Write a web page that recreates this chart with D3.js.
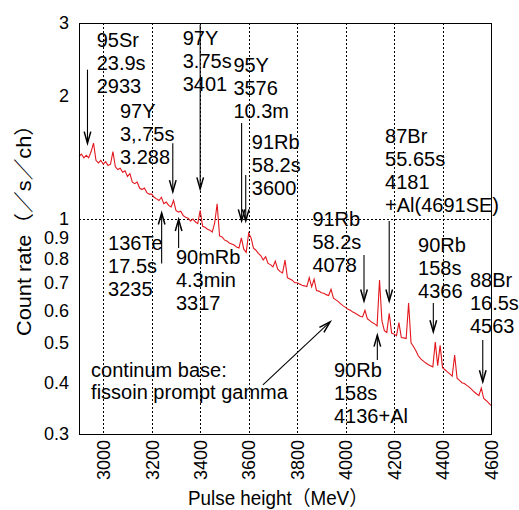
<!DOCTYPE html>
<html><head><meta charset="utf-8">
<script src="https://cdn.jsdelivr.net/npm/d3@7"></script>
<style>
body{margin:0;background:#fff}
svg text{font-family:"Liberation Sans",Arial,"Noto Sans CJK JP",sans-serif;fill:#000}
</style>
</head><body><svg id="chart" width="519" height="510"></svg>
<script>
// ---- data ----
const pulseHeight = [
2900,2910,2920,2930,2940,2950,2960,2970,2980,2990,
3000,3010,3020,3030,3040,3050,3060,3070,3080,3090,
3100,3110,3120,3130,3140,3150,3160,3170,3180,3190,
3200,3210,3220,3230,3240,3250,3260,3270,3280,3290,
3300,3310,3320,3330,3340,3350,3360,3370,3380,3390,
3400,3410,3420,3430,3440,3450,3460,3470,3480,3490,
3500,3510,3520,3530,3540,3550,3560,3570,3580,3590,
3600,3610,3620,3630,3640,3650,3660,3670,3680,3690,
3700,3710,3720,3730,3740,3750,3760,3770,3780,3790,
3800,3810,3820,3830,3840,3850,3860,3870,3880,3890,
3900,3910,3920,3930,3940,3950,3960,3970,3980,3990,
4000,4010,4020,4030,4040,4050,4060,4070,4080,4090,
4100,4110,4120,4130,4140,4150,4160,4170,4180,4190,
4200,4210,4220,4230,4240,4250,4260,4270,4280,4290,
4300,4310,4320,4330,4340,4350,4360,4370,4380,4390,
4400,4410,4420,4430,4440,4450,4460,4470,4480,4490,
4500,4510,4520,4530,4540,4550,4560,4570,4580,4590,
4600];
const countRate = [
1.42,1.44,1.41,1.43,1.41,1.46,1.53,1.39,1.37,1.39,
1.36,1.38,1.35,1.36,1.46,1.34,1.32,1.33,1.30,1.31,
1.27,1.29,1.23,1.22,1.23,1.19,1.18,1.19,1.16,1.15,
1.15,1.13,1.12,1.11,1.13,1.09,1.10,1.08,1.07,1.11,
1.05,1.04,1.045,1.02,1.01,1.005,0.99,1.00,0.985,0.975,
1.05,0.96,0.955,0.945,0.94,0.93,0.98,1.09,0.91,0.905,
0.89,0.885,0.875,0.87,0.865,0.855,0.85,0.90,0.845,0.83,
0.925,0.90,0.85,0.84,0.825,0.815,0.795,0.81,0.78,0.775,
0.765,0.79,0.755,0.745,0.74,0.795,0.72,0.715,0.71,0.70,
0.70,0.695,0.69,0.688,0.685,0.72,0.684,0.714,0.67,0.668,
0.662,0.66,0.655,0.652,0.675,0.642,0.636,0.63,0.622,0.615,
0.61,0.603,0.60,0.594,0.59,0.585,0.58,0.578,0.60,0.572,
0.566,0.56,0.556,0.55,0.711,0.565,0.535,0.53,0.59,0.528,
0.525,0.52,0.56,0.515,0.514,0.512,0.625,0.50,0.49,0.478,
0.465,0.457,0.452,0.447,0.443,0.44,0.437,0.502,0.44,0.493,
0.435,0.43,0.425,0.42,0.415,0.467,0.41,0.405,0.40,0.398,
0.394,0.39,0.385,0.38,0.376,0.372,0.388,0.366,0.362,0.357,
0.352];
const xTicks = [3000,3200,3400,3600,3800,4000,4200,4400,4600];
const yTickLabels = [0.3,0.4,0.5,0.6,0.7,0.8,0.9,1,2,3];
const yGrid = [1];
// annotation texts (line lists) with anchor (pulse height, count rate) and arrow (pulse height, from, to)
const annotationLines = [
 ["95Sr","23.9s","2933"],
 ["97Y","3.75s","3401"],
 ["95Y","3576","10.3m"],
 ["97Y","3,.75s","3.288"],
 ["91Rb","58.2s","3600"],
 ["136Te","17.5s","3235"],
 ["90mRb","4.3min","3317"],
 ["87Br","55.65s","4181","+Al(4691SE)"],
 ["91Rb","58.2s","4078"],
 ["90Rb","158s","4366"],
 ["88Br","16.5s","4563"],
 ["90Rb","158s","4136+Al"],
 ["continum base:","fissoin prompt gamma"]
];
const annotationAt = [
 [2973,2.62],[3328,2.65],[3537,2.28],[3069,1.762],[3613,1.481],
 [3020,0.841],[3300,0.778],[4163,1.53],[3863,0.962],[4299,0.832],
 [4513,0.684],[3952,0.413],[2950,0.413]
];
const arrows = [ // [pulse height, from rate, to rate]
 [2935,2.31,1.53],[3400,2.97,1.184],[3571,1.713,0.99],[3287,1.53,1.166],
 [3588,1.28,0.99],[3241,0.78,1.035],[3311,0.85,0.998],[4180,0.99,0.632],
 [4076,0.818,0.632],[4362,0.625,0.532],[4566,0.508,0.402],[4131,0.454,0.522]
];
const slantArrow = [[3659,0.395],[3936,0.562]];

// ---- layout ----
const svg = d3.select("#chart");
const L=79, R=491, T=23, B=434;
const x = d3.scaleLinear().domain([2900,4600]).range([L,R]);
const y = d3.scaleLog().domain([0.3,3]).range([B,T]);
const FS = 20, TFS = 18, LH = 23;

// grid
svg.append("g").selectAll("line").data(xTicks).join("line")
  .attr("x1",d=>Math.round(x(d))+0.5).attr("x2",d=>Math.round(x(d))+0.5)
  .attr("y1",T).attr("y2",B)
  .attr("stroke","#000").attr("stroke-width",1).attr("stroke-dasharray","2,2");
svg.append("g").selectAll("line").data(yGrid).join("line")
  .attr("x1",L).attr("x2",R)
  .attr("y1",d=>Math.round(y(d))+0.5).attr("y2",d=>Math.round(y(d))+0.5)
  .attr("stroke","#000").attr("stroke-width",1).attr("stroke-dasharray","2,2");

// spectrum
const spec = pulseHeight.map((e,i)=>[e,countRate[i]]);
svg.append("path").datum(spec)
  .attr("d", d3.line().x(d=>x(d[0])).y(d=>y(d[1])))
  .attr("fill","none").attr("stroke","#e3181e").attr("stroke-width",1.1);

// frame
svg.append("rect").attr("x",L+0.5).attr("y",T+0.5).attr("width",R-L).attr("height",B-T)
  .attr("fill","none").attr("stroke","#000").attr("stroke-width",1);

// axes (labels only)
const xAxis = d3.axisBottom(x).tickValues(xTicks).tickSize(0).tickFormat(d3.format("d"));
const gx = svg.append("g").attr("transform",`translate(0,${B})`).call(xAxis);
gx.select(".domain").remove();
gx.selectAll("text").attr("font-size",TFS).attr("transform","rotate(-90)")
  .attr("text-anchor","end").attr("x",-6).attr("y",0).attr("dy","0.35em");

const yAxis = d3.axisLeft(y).tickValues(yTickLabels).tickSize(0).tickFormat(d=>String(d));
const gy = svg.append("g").attr("transform",`translate(${L},0)`).call(yAxis);
gy.select(".domain").remove();
gy.selectAll("text").attr("font-size",TFS).attr("x",-10);
svg.selectAll(".tick text").attr("fill","#000").style("font-family",'"Liberation Sans",Arial,sans-serif');

// axis titles
svg.append("text").attr("x",278).attr("y",505).attr("text-anchor","middle")
  .attr("font-size",FS).attr("textLength",180).attr("lengthAdjust","spacingAndGlyphs")
  .text("Pulse height（MeV）");
svg.append("text").attr("transform","translate(31,225) rotate(-90)").attr("text-anchor","middle")
  .attr("font-size",FS).attr("textLength",222).attr("lengthAdjust","spacingAndGlyphs")
  .text("Count rate（／s／ch）");

// annotation text
annotationLines.forEach((lines,i)=>{
  const [e,v] = annotationAt[i];
  const lh = lines.length===2 ? 22 : LH;
  const t = svg.append("text").attr("font-size",FS);
  lines.forEach((s,j)=>t.append("tspan").attr("x",x(e)).attr("y",y(v)+j*lh).text(s));
});

// arrows
function arrow(x1,y1,x2,y2){
  const ang = Math.atan2(y2-y1,x2-x1), hl=12, hw=0.28;
  svg.append("line").attr("x1",x1).attr("y1",y1).attr("x2",x2).attr("y2",y2)
    .attr("stroke","#000").attr("stroke-width",1.1);
  const p1=[x2-hl*Math.cos(ang-hw), y2-hl*Math.sin(ang-hw)];
  const p2=[x2-hl*Math.cos(ang+hw), y2-hl*Math.sin(ang+hw)];
  svg.append("path").attr("d",`M${p1}L${x2},${y2}L${p2}`)
    .attr("fill","none").attr("stroke","#000").attr("stroke-width",1.5);
}
arrows.forEach(a=>arrow(x(a[0]),y(a[1]),x(a[0]),y(a[2])));
arrow(x(slantArrow[0][0]),y(slantArrow[0][1]),x(slantArrow[1][0]),y(slantArrow[1][1]));
</script></body></html>
